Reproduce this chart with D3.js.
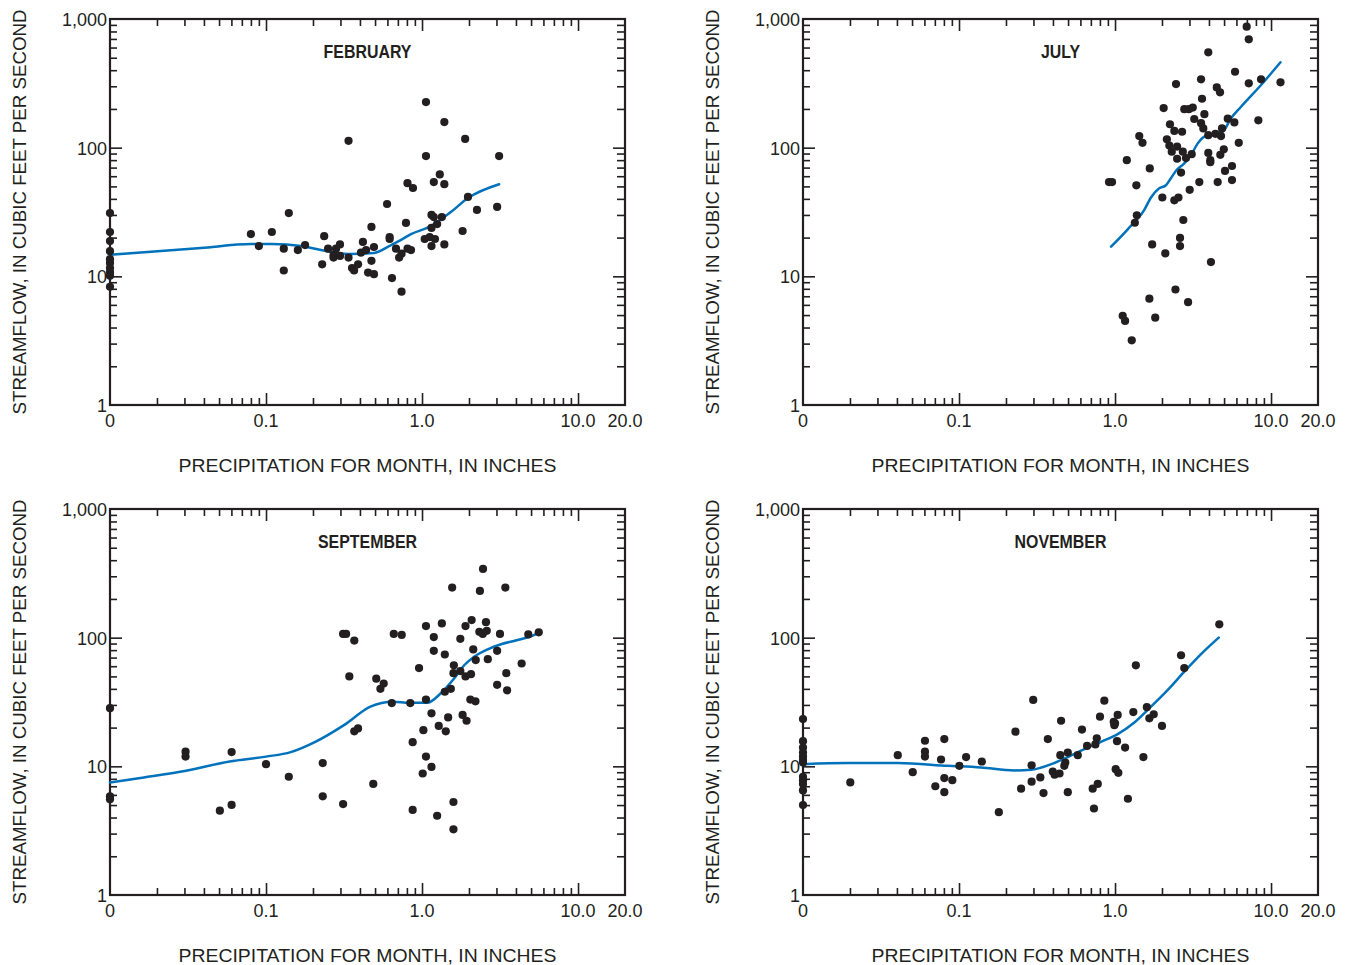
<!DOCTYPE html>
<html>
<head>
<meta charset="utf-8">
<script src="https://cdn.jsdelivr.net/npm/d3@7"></script>
<style>
  body { margin: 0; background: #fff; }
  svg text { font-family: "Liberation Sans", Arial, sans-serif; fill: #231f20; }
</style>
</head>
<body>
<svg id="chart" width="1348" height="965"></svg>
<script>
// Monthly precipitation (inches) vs. mean streamflow (cubic feet per second).
// A precipitation of 0 is plotted on the left edge of the log axis.
const monthNames = ["FEBRUARY", "JULY", "SEPTEMBER", "NOVEMBER"];

const febObs = [
  [0,31],[0,22.1],[0,18.8],[0,15.7],[0,13.6],[0,12.7],[0,11.6],[0,10.8],[0,10.1],[0,8.3],
  [0.080,21.3],[0.090,17.2],[0.109,22.1],[0.130,16.4],[0.130,11.1],[0.140,31],[0.160,16.0],[0.178,17.5],
  [0.229,12.4],[0.236,20.5],[0.250,16.4],[0.271,14.0],[0.271,14.6],[0.281,16.4],[0.298,17.7],[0.298,14.4],
  [0.338,113],[0.338,14.0],[0.356,11.6],[0.367,11.1],[0.389,12.4],[0.406,15.3],[0.418,18.5],[0.438,16.0],
  [0.451,10.7],[0.474,24.2],[0.474,13.2],[0.492,16.9],[0.492,10.4],[0.597,36.5],[0.620,20.2],[0.620,19.5],
  [0.642,9.7],[0.681,16.4],[0.713,14.0],[0.739,15.0],[0.739,7.6],[0.789,26],[0.807,16.4],[0.807,53],
  [0.850,16.0],[0.875,48.6],[1.04,19.5],[1.06,226],[1.06,86],[1.12,20.2],[1.15,17.2],[1.15,23.8],[1.15,30],
  [1.19,54],[1.19,28.9],[1.21,19.5],[1.25,25.5],[1.30,62],[1.34,28.9],[1.39,158],[1.39,52],[1.39,17.7],
  [1.82,22.5],[1.89,117],[1.97,41.4],[2.25,32.8],[3.03,34.6],[3.12,86]
];
const febFit = [
  [0,14.7],[0.0183,15.5],[0.0383,16.6],[0.080,17.8],[0.109,17.8],[0.168,17.2],[0.225,16.0],[0.336,14.9],
  [0.492,15.2],[0.633,17.5],[0.739,19.3],[0.85,21.3],[1.11,24.2],[1.53,31.6],[1.97,40.6],[3.12,52]
];

const julObs = [
  [6.98,871],[7.20,695],[3.96,551],[5.88,389],[3.56,340],[2.46,312],[7.20,316],[8.63,340],[11.5,322],
  [4.49,294],[4.71,269],[3.61,240],[2.05,203],[2.78,199],[2.97,199],[3.15,205],[3.74,182],[3.22,167],
  [5.28,168],[5.82,157],[8.29,163],[2.25,152],[3.56,155],[3.68,141],[2.40,135],[2.69,133],[3.96,125],
  [4.40,128],[4.85,141],[4.78,123],[1.43,123],[1.50,109],[2.15,116],[2.23,104],[2.50,102],[6.21,109],
  [2.31,93],[2.72,93],[3.10,89],[2.85,83],[2.50,82],[3.96,91],[4.08,80],[4.08,77],[4.73,88],[4.98,97],
  [1.19,80],[1.67,69],[2.65,64],[5.07,66],[5.62,72],[0.915,54],[0.957,54],[1.37,51],[3.47,54],[4.55,54],
  [5.62,56],[3.01,47],[2.01,41],[2.40,39],[2.55,41],[1.38,29.8],[1.34,26.1],[2.74,27.4],[1.73,17.7],
  [2.61,19.9],[2.61,17.2],[2.10,15.1],[2.44,7.9],[1.66,6.7],[1.81,4.77],[1.12,4.94],[1.16,4.50],
  [1.28,3.18],[2.94,6.3],[4.12,12.9]
];
const julFit = [
  [0.943,17.0],[1.21,23.3],[1.54,32.8],[1.70,41],[1.92,48.3],[2.12,51],[2.28,57.8],[2.46,66.2],[2.78,75.6],
  [3.07,87.7],[3.39,108],[3.74,122],[4.33,128],[4.90,133],[5.53,169],[6.42,208],[8.63,307],[11.5,461]
];

const sepObs = [
  [0,28.3],[0,5.85],[0,5.54],
  [0.0305,13.0],[0.0305,11.9],[0.0506,4.52],[0.0602,12.9],[0.0602,5.01],[0.100,10.4],[0.140,8.3],
  [0.231,10.6],[0.231,5.85],[0.312,5.09],[0.312,107],[0.326,107],[0.342,50],[0.368,95],[0.368,18.7],
  [0.389,19.7],[0.487,7.3],[0.509,48],[0.568,44],[0.541,40],[0.640,31],[0.659,107],[0.741,105],[0.841,31],
  [0.871,15.4],[0.871,4.58],[0.957,58],[1.06,123],[1.06,33],[1.02,19.1],[1.06,11.9],[1.01,8.8],[1.15,9.9],
  [1.15,25.8],[1.19,101],[1.19,79],[1.28,20.6],[1.34,129],[1.40,74],[1.40,38],[1.42,18.7],[1.47,24],
  [1.25,4.13],[1.59,5.28],[1.59,3.24],[1.53,40],[1.56,245],[1.60,61],[1.59,53],[1.76,98],[1.76,55],
  [1.82,25.1],[1.93,22.6],[1.90,123],[1.90,50],[2.04,33],[2.06,52],[2.08,137],[2.13,81],[2.21,67],[2.20,32],
  [2.35,231],[2.46,342],[2.33,111],[2.45,107],[2.57,132],[2.60,113],[2.64,68],[3.03,79],[3.03,43],
  [3.16,107],[3.42,245],[3.47,53],[3.51,39],[4.35,63],[4.80,106],[5.60,110]
];
const sepFit = [
  [0,7.5],[0.0165,8.2],[0.0301,9.2],[0.0584,10.9],[0.1,11.9],[0.144,12.9],[0.207,15.5],[0.316,20.9],
  [0.467,29.1],[0.65,31.8],[0.828,31.2],[1.08,31.2],[1.32,37],[1.61,48.3],[1.87,61.3],[2.16,71.1],
  [2.64,81.2],[3.21,88.8],[4.10,95.9],[5.25,105],[5.6,110]
];

const novObs = [
  [0,23.3],[0,15.7],[0,14.0],[0,12.8],[0,11.9],[0,11.2],[0,10.7],[0,8.3],[0,7.8],[0,7.3],[0,6.5],[0,5.0],
  [0.0201,7.5],[0.0405,12.2],[0.0505,9.0],[0.0605,15.8],[0.0605,13.0],[0.0605,11.9],[0.0705,7.0],
  [0.0767,11.3],[0.0805,16.3],[0.0805,8.1],[0.0805,6.3],[0.0906,7.8],[0.1005,10.1],[0.111,11.8],
  [0.140,10.9],[0.180,4.4],[0.230,18.6],[0.250,6.7],[0.292,10.2],[0.292,7.6],[0.299,32.8],[0.332,8.2],
  [0.348,6.2],[0.371,16.3],[0.399,9.1],[0.410,8.6],[0.441,8.8],[0.446,12.2],[0.451,22.6],[0.473,10.1],
  [0.480,10.7],[0.498,12.8],[0.498,6.3],[0.577,12.2],[0.614,19.3],[0.662,14.4],[0.719,6.7],[0.733,4.7],
  [0.748,14.8],[0.764,16.5],[0.775,7.3],[0.801,24.3],[0.854,32.4],[0.981,22.2],[0.990,20.9],[1.00,21.6],
  [1.03,15.7],[1.04,25.1],[1.01,9.5],[1.05,8.9],[1.16,14.0],[1.21,5.6],[1.31,26.4],[1.36,61],[1.52,11.8],
  [1.60,28.8],[1.66,23.6],[1.77,25.4],[2.00,20.6],[2.65,73],[2.78,58],[4.66,127]
];
const novFit = [
  [0,10.4],[0.0194,10.6],[0.0405,10.6],[0.0848,10.1],[0.138,9.8],[0.226,9.3],[0.29,9.4],[0.39,10.4],
  [0.498,11.8],[0.636,13.6],[0.813,15.5],[1.04,17.8],[1.33,21.9],[1.70,29.1],[2.18,39.3],[2.78,54.4],
  [3.56,74.5],[4.62,100]
];

// Axis ticks and labels
const xMinorTicks = [0.02,0.03,0.04,0.05,0.06,0.07,0.08,0.09,0.2,0.3,0.4,0.5,0.6,0.7,0.8,0.9,2,3,4,5,6,7,8,9];
const xMajorTicks = [0.1, 1, 10];
const xLabelValues = [0.01, 0.1, 1, 10, 20];
const xLabelText = ["0", "0.1", "1.0", "10.0", "20.0"];
const yMinorTicks = [2,3,4,5,6,7,8,9,20,30,40,50,60,70,80,90,200,300,400,500,600,700,800,900];
const yMajorTicks = [10, 100];
const yLabelValues = [1, 10, 100, 1000];
const yLabelText = ["1", "10", "100", "1,000"];

const panels = [
  { title: monthNames[0], obs: febObs, fit: febFit, left: 110, top: 19 },
  { title: monthNames[1], obs: julObs, fit: julFit, left: 803, top: 19 },
  { title: monthNames[2], obs: sepObs, fit: sepFit, left: 110, top: 509 },
  { title: monthNames[3], obs: novObs, fit: novFit, left: 803, top: 509 }
];

const W = 515, H = 386;
const ink = "#231f20", blue = "#0072bc";

const x = d3.scaleLog().domain([0.01, 20]).range([0, W]);
const xp = v => (v <= 0 ? x(0.01) : x(v));
const y = d3.scaleLog().domain([1, 1000]).range([H, 0]);

const svg = d3.select("#chart");

panels.forEach(p => {
  const g = svg.append("g").attr("transform", `translate(${p.left},${p.top})`);

  // inward-pointing tick marks on all four sides
  const tickGroup = (axis, tx, ty) => {
    const a = g.append("g").attr("transform", `translate(${tx},${ty})`).call(axis);
    a.select(".domain").remove();
    a.selectAll("line").attr("stroke", ink).attr("stroke-width", 1.6);
    a.selectAll("text").remove();
  };
  tickGroup(d3.axisBottom(x).tickValues(xMinorTicks).tickSize(-7).tickFormat(""), 0, H);
  tickGroup(d3.axisBottom(x).tickValues(xMajorTicks).tickSize(-12).tickFormat(""), 0, H);
  tickGroup(d3.axisTop(x).tickValues(xMinorTicks).tickSize(-7).tickFormat(""), 0, 0);
  tickGroup(d3.axisTop(x).tickValues(xMajorTicks).tickSize(-12).tickFormat(""), 0, 0);
  tickGroup(d3.axisLeft(y).tickValues(yMinorTicks).tickSize(-7).tickFormat(""), 0, 0);
  tickGroup(d3.axisLeft(y).tickValues(yMajorTicks).tickSize(-12).tickFormat(""), 0, 0);
  tickGroup(d3.axisRight(y).tickValues(yMinorTicks).tickSize(-8).tickFormat(""), W, 0);
  tickGroup(d3.axisRight(y).tickValues(yMajorTicks).tickSize(-12).tickFormat(""), W, 0);

  // frame
  g.append("rect").attr("x", 0).attr("y", 0).attr("width", W).attr("height", H)
    .attr("fill", "none").attr("stroke", ink).attr("stroke-width", 2.2);

  // tick labels
  g.selectAll(".xl").data(xLabelValues).join("text")
    .attr("x", d => x(d)).attr("y", H + 22)
    .attr("text-anchor", "middle").attr("font-size", 18)
    .text((d, i) => xLabelText[i]);
  g.selectAll(".yl").data(yLabelValues).join("text")
    .attr("x", -3).attr("y", d => y(d) + 7)
    .attr("text-anchor", "end").attr("font-size", 18)
    .text((d, i) => yLabelText[i]);

  // axis titles
  g.append("text")
    .attr("transform", `translate(-84,${H / 2}) rotate(-90)`)
    .attr("text-anchor", "middle").attr("font-size", 18)
    .attr("textLength", 405).attr("lengthAdjust", "spacingAndGlyphs")
    .text("STREAMFLOW, IN CUBIC FEET PER SECOND");
  g.append("text")
    .attr("x", W / 2).attr("y", 453)
    .attr("text-anchor", "middle").attr("font-size", 18)
    .attr("textLength", 378).attr("lengthAdjust", "spacingAndGlyphs")
    .text("PRECIPITATION FOR MONTH, IN INCHES");

  // month title
  g.append("text")
    .attr("transform", `translate(${W / 2},39) scale(0.86,1)`)
    .attr("text-anchor", "middle").attr("font-size", 18.5).attr("font-weight", "bold")
    .text(p.title);

  // fitted curve
  g.append("path").datum(p.fit)
    .attr("fill", "none").attr("stroke", blue).attr("stroke-width", 2.5)
    .attr("stroke-linejoin", "round").attr("stroke-linecap", "round")
    .attr("d", d3.line().x(d => xp(d[0])).y(d => y(d[1])).curve(d3.curveMonotoneX));

  // observations
  g.selectAll("circle").data(p.obs).join("circle")
    .attr("cx", d => xp(d[0])).attr("cy", d => y(d[1])).attr("r", 4.1)
    .attr("fill", ink);
});
</script>
</body>
</html>
